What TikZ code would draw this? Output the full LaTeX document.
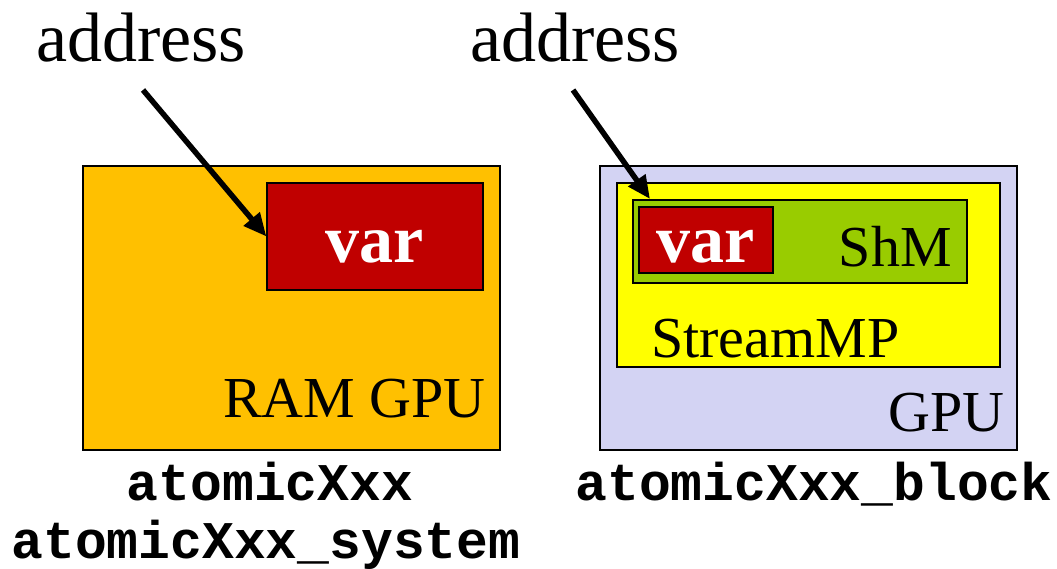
\documentclass[tikz,border=0pt]{standalone}
\usepackage{fontspec}
\setmainfont{Liberation Serif}
\setmonofont{Liberation Mono}
\usetikzlibrary{arrows.meta}
\definecolor{ramgold}{RGB}{255,192,0}
\definecolor{varred}{RGB}{192,0,0}
\definecolor{gpulilac}{RGB}{211,211,243}
\definecolor{smyellow}{RGB}{255,255,0}
\definecolor{shmgreen}{RGB}{153,204,0}

\begin{document}
\begin{tikzpicture}[x=1pt, y=-1pt]
	\tikzstyle{box} = [rectangle,draw=black,line width=1.2pt,inner sep=0pt]
	\tikzstyle{lbl} = [inner sep=0pt,font=\fontsize{58}{60}\selectfont]
	\tikzstyle{big} = [inner sep=0pt,anchor=base,font=\fontsize{70}{72}\selectfont]
	\tikzstyle{vartxt} = [inner sep=0pt,anchor=base,text=white,font=\fontsize{68}{70}\selectfont\bfseries]
	\tikzstyle{fn} = [inner sep=0pt,anchor=base,font=\fontsize{53}{55}\selectfont\ttfamily\bfseries]
	\tikzstyle{ptr} = [-{Triangle[length=23pt,width=20pt]},line width=5.5pt]
	\useasboundingbox (0,0) rectangle (1057,569);
	% left: RAM GPU
	\node[box,fill=ramgold,minimum width=417pt,minimum height=284pt] at (291.5,308) (ram) {};
	\node[box,fill=varred,minimum width=216pt,minimum height=107pt] at (375,236.5) (var1) {};
	\node[vartxt] at (375,263) (var1txt) {var};
	\node[lbl,anchor=base east] at (486,417) (ramtxt) {RAM GPU};
	\node[big] at (141,62) (addr1) {address};
	\coordinate (tail1) at (143,90);
	% right: GPU / StreamMP / ShM
	\node[box,fill=gpulilac,minimum width=417pt,minimum height=284pt] at (808.5,308) (gpu) {};
	\node[box,fill=smyellow,minimum width=383pt,minimum height=184pt] at (808.5,275) (smp) {};
	\node[box,fill=shmgreen,minimum width=334pt,minimum height=83pt] at (800,241.5) (shm) {};
	\node[box,fill=varred,minimum width=134pt,minimum height=66pt] at (706,240) (var2) {};
	\node[vartxt] at (706,263) (var2txt) {var};
	\node[lbl,anchor=base east] at (952,267) (shmtxt) {ShM};
	\node[lbl,anchor=base west] at (651,357) (smptxt) {StreamMP};
	\node[lbl,anchor=base east] at (1005,431) (gputxt) {GPU};
	\node[big] at (575,62) (addr2) {address};
	\coordinate (tail2) at (573,90);
	\coordinate (head2) at (650,199);
	% function names
	\node[fn] at (270,500) (fsys1) {atomicXxx};
	\node[fn] at (266,558) (fsys2) {atomicXxx\_system};
	\node[fn] at (814,500) (fblk) {atomicXxx\_block};
	\path[ptr] (tail1) edge (var1.west)
	(tail2) edge (head2);
\end{tikzpicture}
\end{document}
